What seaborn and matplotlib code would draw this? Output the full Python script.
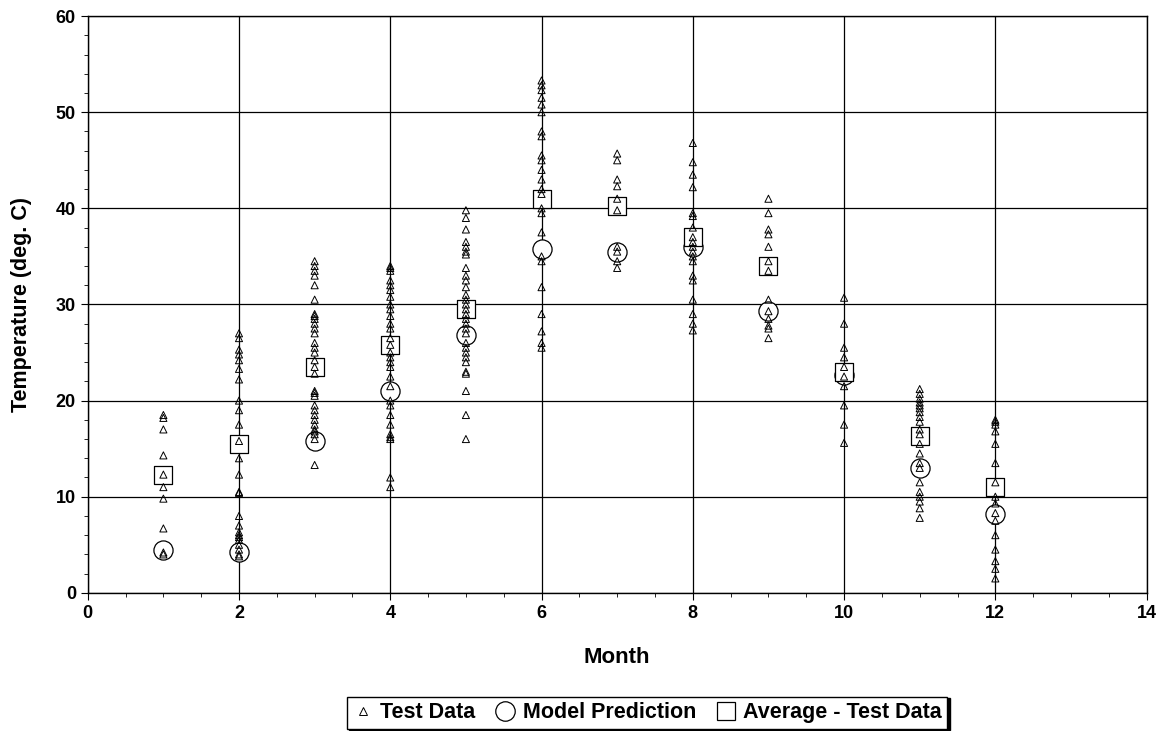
import matplotlib
matplotlib.use('Agg')
import matplotlib.pyplot as plt
import seaborn as sns
import pandas as pd
from matplotlib.lines import Line2D
from matplotlib.ticker import MultipleLocator

# test data readings per month
test_m1 = [18.5, 18.2, 17.0, 14.3, 12.3, 11.0, 9.8, 6.7, 4.2, 4.0]
test_m2 = [27.0, 26.5, 25.3, 24.8, 24.2, 23.3, 22.2, 20.0, 19.0, 17.5, 15.8, 14.0,
           12.3, 10.5, 10.4, 8.0, 7.0, 6.3, 6.0, 5.8, 5.5, 5.0, 4.5, 4.0, 3.8]
test_m3 = [34.5, 34.0, 33.5, 33.0, 32.0, 30.5, 29.0, 28.8, 28.5, 28.0, 27.5, 27.0,
           26.0, 25.5, 25.0, 24.2, 23.5, 22.8, 21.0, 20.8, 20.5, 19.5, 19.0, 18.5,
           18.0, 17.5, 17.0, 16.8, 16.5, 16.0, 13.3]
test_m4 = [34.0, 33.8, 33.5, 32.5, 32.0, 31.5, 30.8, 30.0, 29.5, 28.8, 28.0, 27.5,
           26.5, 25.8, 25.0, 24.5, 24.0, 23.5, 22.5, 21.5, 20.0, 19.5, 18.5, 17.5,
           16.5, 16.2, 16.0, 12.0, 11.0]
test_m5 = [39.8, 39.0, 37.8, 36.5, 36.0, 35.5, 35.2, 33.8, 33.0, 32.5, 31.8, 31.0,
           30.5, 30.0, 29.5, 29.0, 28.5, 28.0, 27.5, 27.0, 26.0, 25.5, 25.0, 24.5,
           24.0, 23.0, 22.8, 21.0, 18.5, 16.0]
test_m6 = [53.3, 52.8, 52.3, 51.5, 50.8, 50.0, 48.0, 47.5, 45.5, 45.0, 44.0, 43.0,
           42.0, 41.5, 40.0, 39.5, 37.5, 35.0, 34.5, 31.8, 29.0, 27.2, 26.0, 25.5]
test_m7 = [45.7, 45.0, 43.0, 42.3, 41.0, 39.8, 36.0, 35.5, 34.5, 33.8]
test_m8 = [46.8, 44.8, 43.5, 42.2, 39.5, 39.2, 38.0, 37.0, 36.5, 36.0, 35.5, 35.0,
           34.5, 33.0, 32.5, 30.5, 29.0, 28.0, 27.3]
test_m9 = [41.0, 39.5, 37.8, 37.3, 36.0, 34.5, 33.5, 30.5, 29.3, 28.5, 27.8, 27.5, 26.5]
test_m10 = [30.7, 28.0, 25.5, 24.5, 23.5, 22.5, 21.5, 19.5, 17.5, 15.6]
test_m11 = [21.2, 20.7, 20.2, 19.8, 19.5, 19.2, 18.8, 18.3, 17.8, 17.0, 16.5, 15.5,
            14.5, 13.5, 13.0, 11.5, 10.5, 10.0, 9.5, 8.8, 7.8]
test_m12 = [18.0, 17.8, 17.5, 16.8, 15.5, 13.5, 11.5, 10.0, 9.3, 8.3, 7.5, 6.0,
            4.5, 3.3, 2.5, 1.5]

months = [1, 2, 3, 4, 5, 6, 7, 8, 9, 10, 11, 12]
model_pred = [4.5, 4.3, 15.8, 21.0, 26.8, 35.8, 35.5, 36.0, 29.3, 22.7, 13.0, 8.2]
avg_test = [12.3, 15.5, 23.5, 25.8, 29.5, 41.0, 40.2, 37.0, 34.0, 23.0, 16.3, 11.0]

all_tests = [test_m1, test_m2, test_m3, test_m4, test_m5, test_m6,
             test_m7, test_m8, test_m9, test_m10, test_m11, test_m12]
test_df = pd.DataFrame([(m, v) for m, vals in zip(months, all_tests) for v in vals],
                       columns=['Month', 'Temp'])
summary = pd.DataFrame({'Month': months, 'Model': model_pred, 'Avg': avg_test})

sns.set_style('white')
plt.rcParams['font.family'] = ['Liberation Sans', 'DejaVu Sans']
plt.rcParams['font.weight'] = 'bold'
plt.rcParams['text.color'] = 'black'
plt.rcParams['axes.labelcolor'] = 'black'
plt.rcParams['xtick.color'] = 'black'
plt.rcParams['ytick.color'] = 'black'

fig = plt.figure(figsize=(11.7, 7.31), dpi=100)
ax = fig.add_axes([0.075, 0.189, 0.905, 0.789])

sns.scatterplot(data=summary, x='Month', y='Model', ax=ax, marker='o', s=190,
                facecolor='white', edgecolor='black', linewidth=0.9, zorder=3)
sns.scatterplot(data=summary, x='Month', y='Avg', ax=ax, marker='s', s=170,
                facecolor='white', edgecolor='black', linewidth=0.9, zorder=3)
sns.scatterplot(data=test_df, x='Month', y='Temp', ax=ax, marker='^', s=26,
                facecolor='none', edgecolor='black', linewidth=0.7, zorder=4)

ax.set_xlim(0, 14)
ax.set_ylim(0, 60)
ax.xaxis.set_major_locator(MultipleLocator(2))
ax.xaxis.set_minor_locator(MultipleLocator(0.5))
ax.yaxis.set_major_locator(MultipleLocator(10))
ax.yaxis.set_minor_locator(MultipleLocator(2))
ax.grid(True, which='major', color='black', linewidth=0.9)
ax.set_axisbelow(True)
ax.tick_params(which='both', direction='out', color='black', bottom=True, left=True)
ax.tick_params(which='major', length=5, labelsize=13)
ax.tick_params(which='minor', length=3)
for sp in ax.spines.values():
    sp.set_color('black')
    sp.set_linewidth(1)
for lbl in ax.get_xticklabels() + ax.get_yticklabels():
    lbl.set_fontweight('bold')

ax.set_xlabel('Month', fontsize=16, fontweight='bold', labelpad=18)
ax.set_ylabel('Temperature (deg. C)', fontsize=15.5, fontweight='bold', labelpad=17)

handles = [
    Line2D([], [], marker='^', linestyle='', markersize=5.5, markerfacecolor='none',
           markeredgecolor='black', markeredgewidth=0.7, label='Test Data'),
    Line2D([], [], marker='o', linestyle='', markersize=14, markerfacecolor='white',
           markeredgecolor='black', markeredgewidth=0.9, label='Model Prediction'),
    Line2D([], [], marker='s', linestyle='', markersize=13, markerfacecolor='white',
           markeredgecolor='black', markeredgewidth=0.9, label='Average - Test Data'),
]
leg = fig.legend(handles=handles, loc='center', bbox_to_anchor=(0.553, 0.025), ncol=3,
                 frameon=True, fancybox=False, edgecolor='black', handletextpad=0.3,
                 columnspacing=0.9, handlelength=1.0, borderpad=0.25,
                 prop={'weight': 'bold', 'size': 15.5},
                 shadow={'color': 'black', 'alpha': 1, 'ox': 2, 'oy': -1})

fig.savefig('out.png', dpi=100, facecolor='white')
plt.close(fig)
